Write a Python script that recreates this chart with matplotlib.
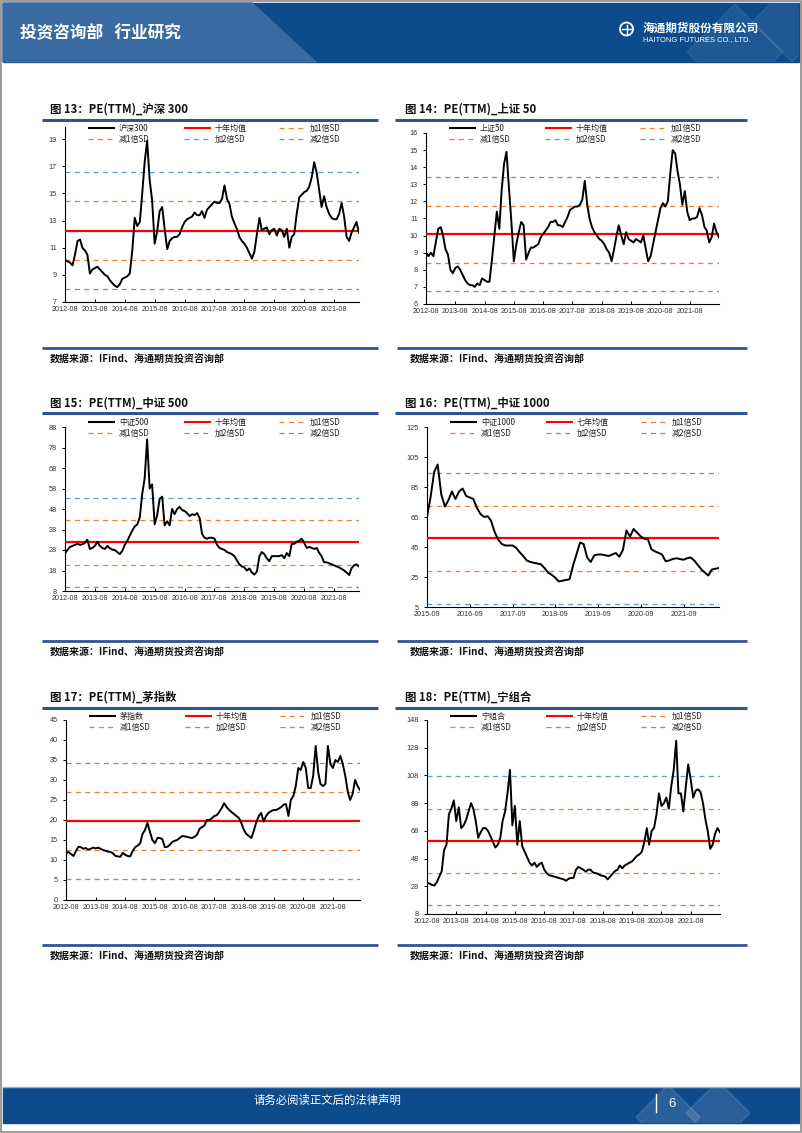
import pandas as pd
import matplotlib
matplotlib.use('Agg')
import matplotlib.pyplot as plt
from matplotlib.patches import Rectangle, Polygon, Circle

plt.rcParams['font.family'] = ['Noto Sans CJK SC', 'DejaVu Sans']
plt.rcParams['axes.unicode_minus'] = False

W, H = 802, 1133
RED = '#FF0000'
ORANGE = '#ED7D31'
BLUE = '#5B9BD5'
NAVY = '#2F5496'
TICK_FONT = ['Liberation Sans Narrow', 'Liberation Sans', 'DejaVu Sans']

# ---- data (monthly readings of PE(TTM)) ----
hs300 = [10.1, 10.0, 9.9, 9.7, 10.5, 11.5, 11.6, 11.0, 10.8, 10.5,
         9.1, 9.4, 9.5, 9.6, 9.4, 9.2, 9.0, 8.9, 8.6, 8.4,
         8.2, 8.1, 8.3, 8.7, 8.8, 8.9, 9.1, 10.8, 13.2, 12.6,
         12.9, 14.9, 17.3, 18.9, 16.0, 14.5, 11.3, 12.2, 13.7, 14.0,
         12.4, 10.9, 11.5, 11.7, 11.8, 11.8, 12.0, 12.5, 12.9, 13.1,
         13.2, 13.3, 13.6, 13.4, 13.4, 13.7, 13.2, 13.8, 14.0, 14.2,
         14.4, 14.3, 14.3, 14.6, 15.6, 14.6, 14.2, 13.3, 12.8, 12.4,
         11.8, 11.5, 11.3, 11.0, 10.6, 10.2, 10.7, 12.0, 13.2, 12.3,
         12.4, 12.5, 12.0, 12.3, 12.4, 11.9, 12.4, 12.3, 11.8, 12.4,
         11.0, 11.8, 12.0, 13.5, 14.7, 14.9, 15.1, 15.2, 15.5, 16.2,
         17.3, 16.5, 15.2, 14.0, 14.8, 14.0, 13.5, 13.2, 13.1, 13.1,
         13.5, 14.3, 13.3, 11.8, 11.5, 12.1, 12.5, 12.9, 12.1]
sz50 = [9.0, 8.8, 9.0, 8.8, 9.6, 10.4, 10.5, 10.0, 9.2, 8.9,
        8.0, 7.8, 8.1, 8.2, 8.0, 7.7, 7.4, 7.2, 7.1, 7.1,
        7.0, 7.2, 7.1, 7.5, 7.4, 7.3, 7.3, 8.6, 10.0, 11.4,
        10.4, 12.6, 14.2, 14.9, 12.8, 10.8, 8.5, 9.5, 10.2, 10.8,
        10.6, 8.6, 9.0, 9.3, 9.3, 9.4, 9.5, 9.9, 10.1, 10.3,
        10.5, 10.8, 10.8, 10.9, 10.6, 10.6, 10.5, 10.8, 11.1, 11.5,
        11.6, 11.7, 11.7, 11.8, 12.1, 13.2, 11.8, 11.0, 10.5, 10.2,
        10.0, 9.8, 9.7, 9.5, 9.2, 9.0, 8.5, 9.2, 10.0, 10.6,
        10.0, 9.5, 10.2, 9.8, 9.7, 9.6, 9.8, 9.7, 9.6, 10.0,
        9.2, 8.5, 8.8, 9.5, 10.2, 10.9, 11.6, 11.9, 11.7, 12.0,
        13.6, 15.0, 14.8, 13.8, 13.0, 11.8, 12.6, 11.4, 10.9, 11.0,
        11.0, 11.1, 11.6, 11.2, 10.5, 10.3, 9.6, 9.9, 10.7, 10.2,
        9.9]
zz500 = [26.5, 28.0, 29.5, 30.0, 30.5, 31.0, 30.5, 30.8, 31.5, 33.0,
         28.5, 29.0, 30.0, 32.0, 30.0, 29.0, 28.5, 30.0, 28.8, 28.2,
         28.0, 27.0, 26.0, 27.5, 30.5, 32.5, 35.0, 37.5, 39.5, 40.5,
         44.0, 55.0, 63.0, 82.0, 58.0, 60.0, 40.5, 45.0, 53.0, 54.0,
         40.0, 42.0, 40.0, 48.0, 45.5, 48.0, 49.0, 47.5, 47.0, 46.0,
         44.5, 45.5, 45.0, 46.0, 43.5, 36.0, 34.0, 33.5, 34.0, 34.0,
         33.5, 30.5, 29.0, 28.5, 28.0, 27.0, 26.5, 26.0, 25.0, 23.0,
         21.0, 20.0, 19.5, 18.0, 19.0, 17.0, 16.0, 17.5, 25.0, 27.0,
         26.0, 24.0, 22.5, 25.0, 25.0, 25.0, 25.0, 25.5, 24.0, 26.5,
         25.0, 31.0, 31.0, 32.0, 32.5, 33.5, 31.5, 29.0, 29.5, 29.0,
         28.5, 29.0, 26.5, 25.0, 22.0, 22.0, 21.5, 21.0, 20.5, 20.0,
         19.5, 18.8, 18.0, 17.0, 15.8, 19.0, 20.5, 21.0, 20.0]
zz1000 = [65.0, 78.0, 95.0, 100.0, 80.0, 72.0, 76.0, 82.0, 77.0, 82.0,
          84.0, 79.0, 78.0, 77.0, 71.0, 67.0, 65.0, 65.5, 62.5, 55.0,
          50.0, 47.0, 46.0, 46.0, 46.0, 44.5, 41.5, 39.0, 36.0, 35.0,
          34.5, 34.0, 33.5, 31.0, 28.0, 26.5, 24.5, 22.0, 22.5, 23.0,
          23.5, 33.0, 40.0, 48.0, 47.0, 38.0, 35.0, 39.5, 40.0, 40.0,
          39.5, 39.0, 40.0, 41.0, 38.5, 43.0, 56.0, 52.0, 57.0, 54.5,
          52.0, 50.5, 50.0, 43.5, 42.0, 41.0, 40.0, 35.5, 36.0, 37.0,
          37.5, 37.0, 36.5, 37.5, 38.0, 36.0, 33.0, 30.0, 28.0, 26.0,
          30.0, 30.5, 31.0]
mao = [11.7, 12.0, 11.5, 11.0, 12.2, 13.3, 13.2, 12.8, 13.0, 12.6,
       12.8, 13.1, 12.9, 13.1, 12.8, 12.5, 12.3, 12.1, 12.0, 11.7,
       11.0, 10.9, 10.8, 11.8, 11.3, 11.0, 10.9, 12.3, 13.2, 13.6,
       14.2, 16.5, 17.5, 19.3, 17.0, 15.0, 14.2, 15.5, 15.5, 15.2,
       13.2, 13.3, 13.8, 14.5, 14.8, 15.0, 15.5, 16.0, 15.9, 15.8,
       15.6, 15.5, 15.8, 16.3, 17.8, 18.2, 18.6, 20.0, 20.0, 20.4,
       21.0, 21.2, 22.0, 23.0, 24.2, 23.2, 22.5, 22.0, 21.5, 21.0,
       20.5, 19.2, 17.5, 16.5, 16.0, 15.5, 17.3, 19.5, 21.0, 21.8,
       19.6, 21.0, 21.8, 22.2, 22.5, 22.5, 22.8, 23.2, 23.8, 24.0,
       21.0, 25.0, 26.0, 28.5, 33.0, 32.5, 34.5, 33.0, 28.0, 28.0,
       31.0, 38.5, 32.0, 29.0, 28.5, 29.0, 38.5, 34.0, 33.0, 35.0,
       34.5, 36.0, 34.0, 31.0, 27.0, 25.0, 26.5, 30.0, 28.5, 27.5]
ning = [30.5, 30.0, 29.0, 28.5, 31.0, 35.0, 39.0, 54.0, 58.0, 80.0,
        84.0, 90.0, 75.0, 85.0, 70.0, 72.0, 76.0, 82.0, 88.0, 84.0,
        75.0, 63.0, 67.0, 70.0, 70.0, 68.0, 64.0, 60.0, 56.0, 58.0,
        63.0, 75.0, 82.0, 95.0, 112.0, 72.0, 86.0, 58.0, 75.0, 57.0,
        53.0, 49.0, 45.0, 43.0, 45.0, 42.0, 44.0, 45.0, 40.0, 37.5,
        36.0, 35.5, 35.0, 34.5, 34.0, 33.5, 33.0, 32.0, 33.5, 34.0,
        34.0, 40.0, 42.0, 41.0, 40.0, 38.5, 40.0, 40.0, 38.0, 37.5,
        37.0, 36.0, 35.5, 35.0, 33.0, 35.0, 37.0, 39.0, 40.0, 43.0,
        41.0, 43.0, 44.0, 45.0, 46.0, 48.0, 50.0, 51.0, 53.0, 60.0,
        70.0, 58.0, 68.0, 70.0, 80.0, 95.0, 86.0, 88.0, 92.0, 84.0,
        100.0, 112.0, 133.0, 95.0, 95.0, 82.0, 100.0, 116.0, 105.0, 92.0,
        97.0, 98.0, 96.0, 88.0, 76.0, 68.0, 55.0, 58.0, 66.0, 70.0,
        67.0]

# mean, +1SD, -1SD, +2SD, -2SD
lv_hs300 = [12.27, 14.42, 10.12, 16.57, 7.97]
lv_sz50 = [10.08, 11.74, 8.42, 13.40, 6.76]
lv_zz500 = [31.7, 42.65, 20.75, 53.6, 9.8]
lv_zz1000 = [50.7, 72.6, 28.8, 94.5, 6.9]
lv_mao = [19.7, 27.0, 12.4, 34.25, 5.15]
lv_ning = [60.8, 84.1, 37.5, 107.4, 14.2]

ten_year_ticks = ['2012-08', '2013-08', '2014-08', '2015-08', '2016-08',
                  '2017-08', '2018-08', '2019-08', '2020-08', '2021-08']
seven_year_ticks = ['2015-09', '2016-09', '2017-09', '2018-09', '2019-09',
                    '2020-09', '2021-09']
sd_labels = ['加1倍SD', '减1倍SD', '加2倍SD', '减2倍SD']

fig = plt.figure(figsize=(W / 100, H / 100), dpi=100)
pg = fig.add_axes([0, 0, 1, 1], zorder=10)
pg.set_xlim(0, W)
pg.set_ylim(H, 0)
pg.axis('off')
pg.patch.set_alpha(0)


def frac(x0, y0, x1, y1):
    return [x0 / W, 1 - y1 / H, (x1 - x0) / W, (y1 - y0) / H]


def draw_legend(left, top, name, mean_name):
    labels = [name, mean_name, sd_labels[0], sd_labels[1], sd_labels[2], sd_labels[3]]
    styles = [('black', '-'), (RED, '-'), (ORANGE, '--'),
              (ORANGE, '--'), (BLUE, '--'), (BLUE, '--')]
    for i, (lab, (c, ls)) in enumerate(zip(labels, styles)):
        r, k = divmod(i, 3)
        x0 = left + 23 + k * 95.5
        y = top + r * 11.3
        if ls == '-':
            pg.plot([x0, x0 + 27], [y, y], color=c, lw=1.5, solid_capstyle='butt')
        else:
            pg.plot([x0, x0 + 27], [y, y], color=c, lw=0.9, ls=(0, (4, 3.5)))
        pg.text(x0 + 31, y, lab, fontsize=5.8, va='center', ha='left', color='#222222')


def draw_chart(box, start, values, levels, ylim, yticks, xticks, name, mean_name, leg_top):
    ax = fig.add_axes(frac(*box), zorder=2)
    ax.patch.set_alpha(0)
    dates = pd.date_range(start, periods=len(values), freq='MS')
    mean, p1, m1, p2, m2 = levels
    for v, c in [(p1, ORANGE), (m1, ORANGE), (p2, BLUE), (m2, BLUE)]:
        ax.axhline(v, color=c, lw=0.9, ls=(0, (4, 3.5)), zorder=2)
    ax.axhline(mean, color=RED, lw=1.6, zorder=3)
    ax.plot(dates, values, color='black', lw=1.4, zorder=4)
    ax.set_xlim(dates[0], dates[-1])
    ax.set_ylim(*ylim)
    ax.set_yticks(yticks)
    ax.set_xticks(pd.to_datetime(xticks, format='%Y-%m'), labels=xticks)
    for s in ['top', 'right']:
        ax.spines[s].set_visible(False)
    for s in ['left', 'bottom']:
        ax.spines[s].set_linewidth(0.8)
    ax.tick_params(axis='x', direction='in', length=2.5, width=0.7, pad=3)
    ax.tick_params(axis='y', direction='out', length=2, width=0.7, pad=4)
    for lab in ax.get_xticklabels() + ax.get_yticklabels():
        lab.set_fontfamily(TICK_FONT)
        lab.set_fontsize(5.2)
        lab.set_color('#333333')
    draw_legend(box[0], leg_top, name, mean_name)
    return ax


draw_chart((65, 127, 359, 302), '2012-08-01', hs300, lv_hs300, (7, 19.9),
           range(7, 20, 2), ten_year_ticks, '沪深300', '十年均值', 128)
draw_chart((426, 133, 719, 304), '2012-08-01', sz50, lv_sz50, (6, 16),
           range(6, 17, 1), ten_year_ticks, '上证50', '十年均值', 128)
draw_chart((65, 427, 359, 591), '2012-08-01', zz500, lv_zz500, (8, 88),
           range(8, 89, 10), ten_year_ticks, '中证500', '十年均值', 422)
draw_chart((427, 427, 719, 607), '2015-09-01', zz1000, lv_zz1000, (5, 125),
           range(5, 126, 20), seven_year_ticks, '中证1000', '七年均值', 422)
draw_chart((66, 720, 360, 900), '2012-08-01', mao, lv_mao, (0, 45),
           range(0, 46, 5), ten_year_ticks, '茅指数', '十年均值', 716)
draw_chart((427, 720, 720, 914), '2012-08-01', ning, lv_ning, (8, 148),
           range(8, 149, 20), ten_year_ticks, '宁组合', '十年均值', 716)

# titles, separator lines and sources
titles = [('图 13：PE(TTM)_沪深 300', 50, 109), ('图 14：PE(TTM)_上证 50', 405, 109),
          ('图 15：PE(TTM)_中证 500', 50, 403), ('图 16：PE(TTM)_中证 1000', 405, 403),
          ('图 17：PE(TTM)_茅指数', 50, 697), ('图 18：PE(TTM)_宁组合', 405, 697)]
for t, x, y in titles:
    pg.text(x, y, t, fontsize=8.2, fontweight='bold', va='center', ha='left', color='#111111')
for y in [120, 413, 708]:
    pg.plot([42, 378], [y, y], color=NAVY, lw=2.2, solid_capstyle='butt')
    pg.plot([395, 747], [y, y], color=NAVY, lw=2.2, solid_capstyle='butt')
for y in [348, 641, 945]:
    pg.plot([42, 378], [y, y], color=NAVY, lw=2.0, solid_capstyle='butt')
    pg.plot([397, 747], [y, y], color=NAVY, lw=2.0, solid_capstyle='butt')
    pg.text(50, y + 12, '数据来源：IFind、海通期货投资咨询部', fontsize=7.2,
            fontweight='bold', va='center', ha='left', color='#111111')
    pg.text(410, y + 12, '数据来源：IFind、海通期货投资咨询部', fontsize=7.2,
            fontweight='bold', va='center', ha='left', color='#111111')

# header band
hdr = Rectangle((3, 3), 796, 59, color='#0d4b8c')
pg.add_patch(hdr)
pg.add_patch(Polygon([(3, 3), (252, 3), (316, 62), (3, 62)], color='#3a6aa2'))
for cx, cy, r in [(735, 52, 48), (792, 22, 40)]:
    d = Polygon([(cx, cy - r), (cx + r, cy), (cx, cy + r), (cx - r, cy)],
                color='white', alpha=0.08)
    pg.add_patch(d)
    d.set_clip_path(hdr)
pg.text(20, 33, '投资咨询部   行业研究', fontsize=12, fontweight='bold',
        color='white', va='center', ha='left')
pg.add_patch(Circle((626.5, 29), 6.5, fill=False, edgecolor='white', lw=1.3))
pg.plot([622, 631], [29, 29], color='white', lw=1)
pg.plot([626.5, 626.5], [24.5, 33.5], color='white', lw=1)
pg.text(643, 28, '海通期货股份有限公司', fontsize=8.4, fontweight='bold',
        color='white', va='center', ha='left')
pg.text(643, 39.5, 'HAITONG FUTURES CO., LTD.', fontsize=5.4, family='Liberation Sans',
        color='white', va='center', ha='left')

# footer band
ftr = Rectangle((3, 1088), 796, 35, color='#0d4b8c')
pg.add_patch(ftr)
pg.plot([3, 799], [1087, 1087], color='#8fb4dc', lw=1.0)
for cx, cy, r in [(668, 1117, 32), (718, 1113, 32)]:
    d = Polygon([(cx, cy - r), (cx + r, cy), (cx, cy + r), (cx - r, cy)],
                color='white', alpha=0.12)
    pg.add_patch(d)
    d.set_clip_path(ftr)
pg.text(327, 1100, '请务必阅读正文后的法律声明', fontsize=8.2, color='white',
        va='center', ha='center')
pg.plot([656, 656], [1094, 1112], color='white', lw=1.0)
pg.text(668, 1104, '6', fontsize=9.5, family='Liberation Sans', color='white',
        va='center', ha='left')

# page frame
pg.add_patch(Rectangle((0.7, 0.7), W - 1.4, H - 1.4, fill=False, edgecolor='#8a8a8a', lw=1.2))

fig.savefig('out.png', dpi=100)
